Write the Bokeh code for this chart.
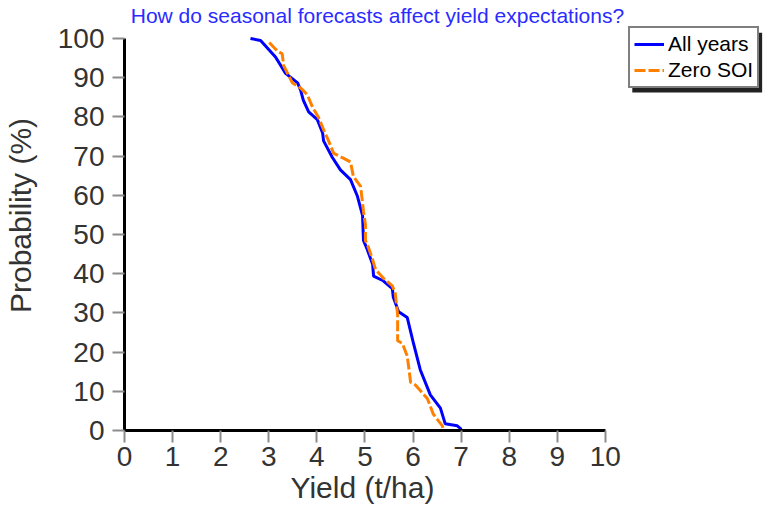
from bokeh.plotting import figure
from bokeh.models import Legend, LegendItem, Range1d, FixedTicker, Label, Title, BoxAnnotation
from bokeh.embed import file_html
from bokeh.resources import INLINE

title_text = "How do seasonal forecasts affect yield expectations?"
x_label = "Yield (t/ha)"
y_label = "Probability (%)"
series_names = ["All years", "Zero SOI"]

all_years_yield = [2.62, 2.83, 3.14, 3.35, 3.60, 3.66, 3.72, 3.83, 4.01, 4.12, 4.14, 4.32, 4.49,
                   4.70, 4.84, 4.95, 4.97, 5.05, 5.16, 5.18, 5.38, 5.57, 5.59, 5.70, 5.88, 6.01,
                   6.15, 6.36, 6.57, 6.67, 6.92, 6.99, 7.00]
all_years_prob = [100, 99.5, 95.3, 91.1, 88.7, 86.9, 84.2, 81.3, 79.3, 75.9, 73.9, 69.7, 66.5,
                  64.0, 59.9, 54.9, 48.5, 46.1, 42.4, 39.4, 38.2, 36.2, 34.0, 30.3, 28.8, 22.2,
                  15.5, 9.1, 5.7, 1.7, 1.2, 0.5, 0]

zero_soi_yield = [3.01, 3.18, 3.28, 3.31, 3.49, 3.66, 3.80, 3.91, 4.03, 4.18, 4.22, 4.35, 4.55,
                  4.70, 4.76, 4.91, 4.97, 5.01, 5.01, 5.07, 5.16, 5.22, 5.38, 5.57, 5.63, 5.68,
                  5.68, 5.78, 5.88, 5.95, 6.05, 6.30, 6.42, 6.61, 6.63]
zero_soi_prob = [99.0, 96.8, 96.1, 93.1, 88.7, 87.4, 85.7, 82.5, 80.0, 75.6, 74.6, 70.7, 69.5,
                 68.5, 64.8, 62.3, 55.9, 52.5, 48.5, 46.8, 43.6, 41.1, 38.9, 36.9, 35.0, 29.6,
                 22.9, 22.2, 19.0, 12.3, 11.6, 8.1, 4.2, 1.2, 0]

x_ticks = list(range(0, 11))
y_ticks = list(range(0, 101, 10))

FONT = "Liberation Sans"

# frame spans the canvas to the right and top; the axes are bounded to 0-10 / 0-100
p = figure(width=765, height=518, x_range=Range1d(0, 13.33), y_range=Range1d(0, 109.7),
           output_backend="svg", toolbar_location=None,
           min_border_left=124, min_border_right=0, min_border_top=0, min_border_bottom=88)

r1 = p.line(all_years_yield, all_years_prob, line_color="#0000ff", line_width=3)
r2 = p.line(zero_soi_yield, zero_soi_prob, line_color="#ff8000", line_width=3, line_dash="11 3")

for ax, ticks, b in ((p.xaxis[0], x_ticks, (0, 10)), (p.yaxis[0], y_ticks, (0, 100))):
    ax.ticker = FixedTicker(ticks=ticks)
    ax.bounds = b
    ax.axis_line_width = 3
    ax.axis_line_color = "black"
    ax.major_tick_line_color = "#8c8c8c"
    ax.major_tick_line_width = 2
    ax.major_tick_out = 12
    ax.major_tick_in = 0
    ax.minor_tick_line_color = None
    ax.major_label_text_font = FONT
    ax.major_label_text_font_size = "28px"
    ax.major_label_text_color = "#333333"
    ax.axis_label_text_font = FONT
    ax.axis_label_text_font_size = "30px"
    ax.axis_label_text_font_style = "normal"
    ax.axis_label_text_color = "#333333"

p.yaxis[0].axis_label = y_label
p.xaxis[0].major_label_standoff = 4
p.yaxis[0].major_label_standoff = 8
p.yaxis[0].axis_label_standoff = 18

# x-axis label centred under the 0-10 span of the axis
p.add_layout(Title(text=x_label, align="left", offset=166, text_font=FONT, text_font_size="30px",
                   text_font_style="normal", text_color="#333333", standoff=0), "below")

p.grid.visible = False
p.outline_line_color = None

title = Label(x=5.26, y=103.0, text=title_text, text_align="center", text_baseline="bottom",
              text_font=FONT, text_font_size="21px", text_color="#2b2bff")
p.add_layout(title)

shadow = BoxAnnotation(left=10.56, right=13.26, top=101.5, bottom=86.2,
                       fill_color="#222222", fill_alpha=1.0, line_color=None)
p.add_layout(shadow)

legend = Legend(items=[LegendItem(label=series_names[0], renderers=[r1]),
                       LegendItem(label=series_names[1], renderers=[r2])],
                location=(504, 342), border_line_color="black", border_line_width=2,
                label_text_font=FONT, label_text_font_size="21px", label_text_color="black",
                glyph_width=30, glyph_height=24, spacing=2, padding=4, margin=0,
                label_standoff=4, background_fill_alpha=1.0)
p.add_layout(legend, "center")

open("out.html", "w").write(file_html(p, INLINE))
